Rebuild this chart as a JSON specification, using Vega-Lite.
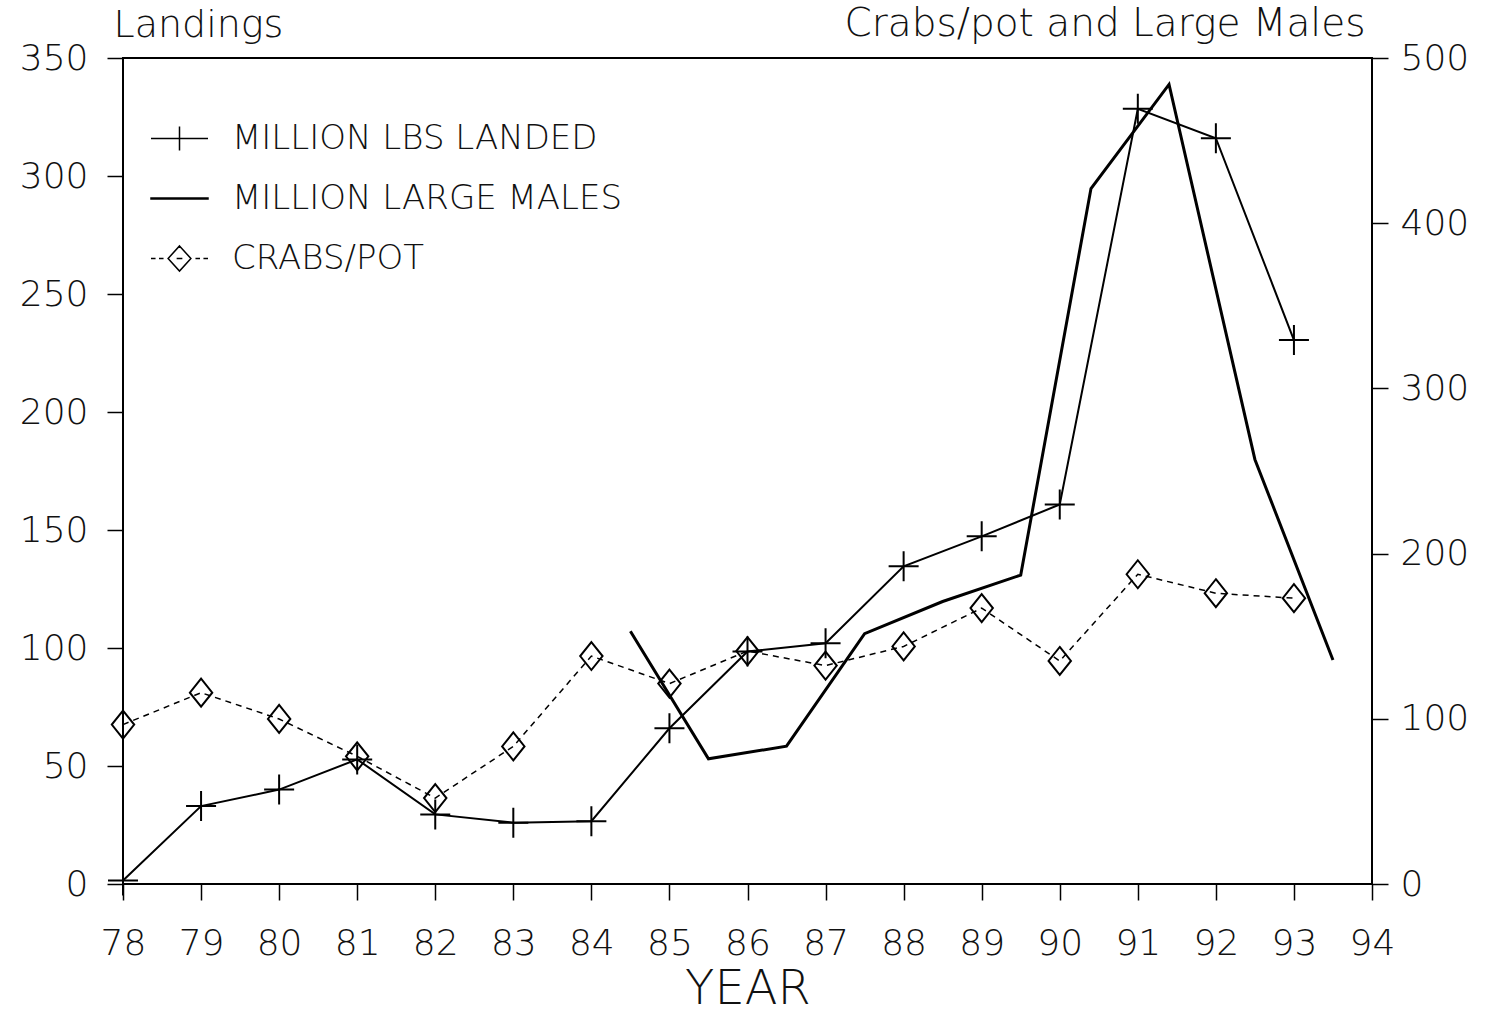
{
  "$schema": "https://vega.github.io/schema/vega-lite/v6.json",
  "width": 1249,
  "height": 826,
  "autosize": "none",
  "padding": {"left": 123, "top": 58, "right": 115, "bottom": 133},
  "background": "white",
  "config": {
    "view": {"stroke": "black", "strokeWidth": 2},
    "font": "DejaVu Sans",
    "axis": {
      "domain": false,
      "grid": false,
      "tickColor": "black",
      "tickWidth": 1.5,
      "tickSize": 16,
      "labelFont": "DejaVu Sans",
      "labelFontSize": 36,
      "labelFontWeight": 200,
      "labelColor": "#111",
      "labelFlush": false,
      "labelOverlap": false,
      "titleFont": "DejaVu Sans",
      "titleFontWeight": 200,
      "titleColor": "#111"
    }
  },
  "datasets": {
    "landings": [
      {"year": 78, "series": "MILLION LBS LANDED", "value": 1.5},
      {"year": 79, "series": "MILLION LBS LANDED", "value": 33},
      {"year": 80, "series": "MILLION LBS LANDED", "value": 40},
      {"year": 81, "series": "MILLION LBS LANDED", "value": 52.8},
      {"year": 82, "series": "MILLION LBS LANDED", "value": 29.5},
      {"year": 83, "series": "MILLION LBS LANDED", "value": 26},
      {"year": 84, "series": "MILLION LBS LANDED", "value": 26.6},
      {"year": 85, "series": "MILLION LBS LANDED", "value": 66},
      {"year": 86, "series": "MILLION LBS LANDED", "value": 98.5},
      {"year": 87, "series": "MILLION LBS LANDED", "value": 102},
      {"year": 88, "series": "MILLION LBS LANDED", "value": 134.6},
      {"year": 89, "series": "MILLION LBS LANDED", "value": 147.3},
      {"year": 90, "series": "MILLION LBS LANDED", "value": 160.8},
      {"year": 91, "series": "MILLION LBS LANDED", "value": 328.5},
      {"year": 92, "series": "MILLION LBS LANDED", "value": 316},
      {"year": 93, "series": "MILLION LBS LANDED", "value": 230.5}
    ],
    "males": [
      {"year": 84.5, "series": "MILLION LARGE MALES", "value": 153},
      {"year": 85.5, "series": "MILLION LARGE MALES", "value": 75.8},
      {"year": 86.5, "series": "MILLION LARGE MALES", "value": 83.4},
      {"year": 87.5, "series": "MILLION LARGE MALES", "value": 151.5},
      {"year": 88.5, "series": "MILLION LARGE MALES", "value": 171},
      {"year": 89.5, "series": "MILLION LARGE MALES", "value": 187},
      {"year": 90.4, "series": "MILLION LARGE MALES", "value": 421},
      {"year": 91.4, "series": "MILLION LARGE MALES", "value": 484},
      {"year": 92.5, "series": "MILLION LARGE MALES", "value": 257},
      {"year": 93.5, "series": "MILLION LARGE MALES", "value": 135.6}
    ],
    "crabs": [
      {"year": 78, "series": "CRABS/POT", "value": 96.5},
      {"year": 79, "series": "CRABS/POT", "value": 115.8},
      {"year": 80, "series": "CRABS/POT", "value": 99.9},
      {"year": 81, "series": "CRABS/POT", "value": 77.3},
      {"year": 82, "series": "CRABS/POT", "value": 52},
      {"year": 83, "series": "CRABS/POT", "value": 83.3},
      {"year": 84, "series": "CRABS/POT", "value": 138},
      {"year": 85, "series": "CRABS/POT", "value": 121.3},
      {"year": 86, "series": "CRABS/POT", "value": 141},
      {"year": 87, "series": "CRABS/POT", "value": 132.2},
      {"year": 88, "series": "CRABS/POT", "value": 143.8},
      {"year": 89, "series": "CRABS/POT", "value": 167},
      {"year": 90, "series": "CRABS/POT", "value": 135},
      {"year": 91, "series": "CRABS/POT", "value": 187.5},
      {"year": 92, "series": "CRABS/POT", "value": 176},
      {"year": 93, "series": "CRABS/POT", "value": 173}
    ]
  },
  "encoding": {
    "x": {
      "field": "year",
      "type": "quantitative",
      "scale": {"domain": [78, 94], "nice": false, "zero": false},
      "axis": {
        "values": [78, 79, 80, 81, 82, 83, 84, 85, 86, 87, 88, 89, 90, 91, 92, 93, 94],
        "format": "d",
        "labelPadding": 26,
        "title": "YEAR",
        "titleFontSize": 48,
        "titleBaseline": "alphabetic",
        "titleY": 119
      }
    }
  },
  "layer": [
    {
      "data": {"name": "landings"},
      "encoding": {
        "y": {
          "field": "value",
          "type": "quantitative",
          "scale": {"domain": [0, 350], "nice": false, "zero": true},
          "axis": {
            "orient": "left",
            "values": [0, 50, 100, 150, 200, 250, 300, 350],
            "labelPadding": 19,
            "title": "Landings",
            "titleAngle": 0,
            "titleAlign": "left",
            "titleBaseline": "alphabetic",
            "titleFontSize": 38,
            "titleX": -10,
            "titleY": -22
          }
        }
      },
      "layer": [
        {
          "mark": {"type": "line", "color": "black", "strokeWidth": 2}
        },
        {
          "mark": {"type": "point", "filled": false, "color": "black", "strokeWidth": 2, "size": 900, "opacity": 1, "shape": "M-1,0H1M0,-1V1"}
        },
        {
          "mark": {"type": "point", "filled": false, "color": "black", "strokeWidth": 1.5, "opacity": 0},
          "encoding": {
            "shape": {
              "field": "series",
              "type": "nominal",
              "scale": {
                "domain": ["MILLION LBS LANDED", "MILLION LARGE MALES", "CRABS/POT"],
                "range": [
                  "M-1,0H1M0,-0.42V0.42",
                  "M-1,-0.02H1V0.02H-1Z",
                  "M-1,0H-0.84M-0.72,0H-0.56M-0.1,0H0.1M0.56,0H0.72M0.84,0H1M0,-0.44L0.4,0L0,0.44L-0.4,0Z"
                ]
              },
              "legend": {
                "title": null,
                "orient": "none",
                "legendX": 27,
                "legendY": 51,
                "padding": 0,
                "direction": "vertical",
                "symbolSize": 3249,
                "symbolStrokeWidth": 1.5,
                "symbolStrokeColor": "black",
                "symbolOpacity": 1,
                "labelFont": "DejaVu Sans",
                "labelFontSize": 34,
                "labelFontWeight": 200,
                "labelColor": "#111",
                "labelOffset": 23,
                "labelLimit": 1000,
                "rowPadding": 13
              }
            }
          }
        }
      ]
    },
    {
      "encoding": {
        "y": {
          "field": "value",
          "type": "quantitative",
          "scale": {"domain": [0, 500], "nice": false, "zero": true},
          "axis": {
            "orient": "right",
            "values": [0, 100, 200, 300, 400, 500],
            "labelPadding": 12,
            "title": "Crabs/pot and Large Males",
            "titleAngle": 0,
            "titleAlign": "right",
            "titleBaseline": "alphabetic",
            "titleFontSize": 39,
            "titleX": -7,
            "titleY": -23
          }
        }
      },
      "layer": [
        {
          "data": {"name": "males"},
          "mark": {"type": "line", "color": "black", "strokeWidth": 3}
        },
        {
          "data": {"name": "crabs"},
          "mark": {"type": "line", "color": "black", "strokeWidth": 1.5, "strokeDash": [6, 5]}
        },
        {
          "data": {"name": "crabs"},
          "mark": {"type": "point", "filled": false, "color": "black", "strokeWidth": 2, "size": 784, "opacity": 1, "shape": "M0,-1L0.8,0L0,1L-0.8,0Z"}
        }
      ]
    }
  ],
  "resolve": {"scale": {"y": "independent"}}
}
